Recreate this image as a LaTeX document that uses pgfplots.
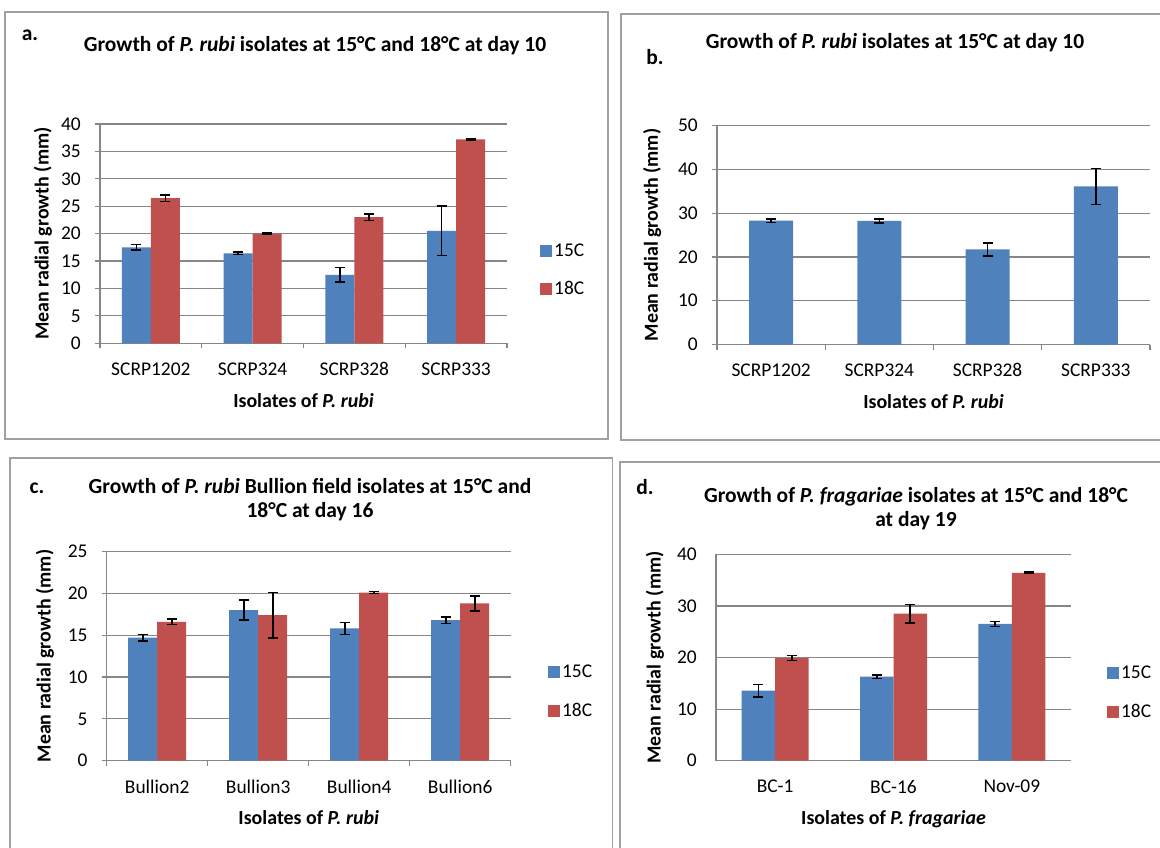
\documentclass[border=0pt]{standalone}
\usepackage{fontspec}
\setmainfont{Carlito}
\usepackage{pgfplots}
\pgfplotsset{compat=1.18}
\definecolor{xblue}{RGB}{79,129,189}
\definecolor{xred}{RGB}{192,80,77}
\definecolor{axgray}{RGB}{134,134,134}
\definecolor{boxgray}{RGB}{160,160,160}
\newcommand\tickfont{\fontsize{19.5}{23}\selectfont}
\newcommand\labfont{\fontsize{20}{24}\selectfont\bfseries}
\newcommand\titfont{\fontsize{21.6}{24}\selectfont\bfseries}

\pgfplotsset{
  excel/.style={
    scale only axis,
    axis lines*=left,
    axis line style={-, draw=axgray, line width=1.2bp},
    ymajorgrids,
    grid style={draw=axgray, line width=1.2bp},
    tick align=outside,
    major tick length=5bp,
    ytick style={draw=axgray, line width=1.2bp},
    xtick style={draw=none},
    ymin=0,
    /pgf/number format/assume math mode=true,
    tick label style={font=\tickfont},
    yticklabel style={anchor=east, inner sep=0pt, xshift=-14bp},
    xticklabel style={anchor=north, inner sep=0pt, yshift=-14bp},
    label style={font=\labfont},
    xlabel style={at={(axis description cs:0.5,0)}, anchor=base, yshift=-64bp},
    clip=false,
    ybar=0pt,
    error bars/y dir=both,
    error bars/y explicit,
    error bars/error bar style={line width=1.6bp, black},
    error bars/error mark options={rotate=90, mark size=5bp, line width=1.6bp, black},
    legend cell align=left,
    legend image code/.code={\fill[##1] (0bp,-6bp) rectangle (12bp,6bp);},
    legend style={draw=none, fill=none, font=\tickfont, inner sep=0pt, row sep=20bp, nodes={inner sep=2bp}, anchor=west},
  },
  boundticks/.style={
    extra x ticks={#1},
    extra x tick labels={},
    extra x tick style={xtick style={draw=axgray, line width=1.2bp}},
  },
}

\begin{document}
\begin{tikzpicture}
\useasboundingbox (0bp,0bp) rectangle (1160bp,-848bp);
\fill[white] (0bp,0bp) rectangle (1160bp,-848bp);

% panel borders
\draw[boxgray, line width=1.5bp] (5bp,-12bp) rectangle (608bp,-439bp);
\draw[boxgray, line width=1.5bp] (621bp,-14bp) rectangle (1163bp,-440bp);
\draw[boxgray, line width=1.5bp] (10bp,-458bp) rectangle (612.5bp,-851bp);
\draw[boxgray, line width=1.5bp] (620bp,-462bp) rectangle (1163bp,-851bp);

% ---------------- panel a ----------------
\begin{axis}[excel,
  at={(100bp,-343.3bp)}, anchor=south west,
  width=407bp, height=219.3bp,
  xmin=-0.5, xmax=3.5, ymax=40,
  ytick={0,5,10,15,20,25,30,35,40},
  xtick={0,1,2,3},
  xticklabels={SCRP1202,SCRP324,SCRP328,SCRP333},
  boundticks={-0.5,0.5,1.5,2.5,3.5},
  bar width=29bp,
  ylabel={Mean radial growth (mm)},
  ylabel style={at={(axis description cs:-0.140,0.5)}, anchor=center},
  xlabel={Isolates of \textit{P. rubi}},
  legend style={at={(axis description cs:1.081,0.334)}},
]
\addplot[fill=xblue, draw=none] coordinates {(0,17.5) +- (0,0.5) (1,16.4) +- (0,0.2) (2,12.5) +- (0,1.3) (3,20.5) +- (0,4.5)};
\addplot[fill=xred, draw=none] coordinates {(0,26.5) +- (0,0.6) (1,20.0) +- (0,0.15) (2,23.0) +- (0,0.6) (3,37.2) +- (0,0.15)};
\legend{15C,18C}
\end{axis}

% ---------------- panel b ----------------
\begin{axis}[excel,
  at={(717bp,-344.5bp)}, anchor=south west,
  width=433bp, height=219bp,
  xmin=-0.5, xmax=3.5, ymax=50,
  ytick={0,10,20,30,40,50},
  xtick={0,1,2,3},
  xticklabels={SCRP1202,SCRP324,SCRP328,SCRP333},
  boundticks={-0.5,0.5,1.5,2.5,3.5},
  bar width=44bp,
  ylabel={Mean radial growth (mm)},
  ylabel style={at={(axis description cs:-0.150,0.5)}, anchor=center},
  xlabel={Isolates of \textit{P. rubi}},
]
\addplot[fill=xblue, draw=none] coordinates {(0,28.3) +- (0,0.4) (1,28.2) +- (0,0.4) (2,21.7) +- (0,1.5) (3,36.1) +- (0,4.1)};
\end{axis}

% ---------------- panel c ----------------
\begin{axis}[excel,
  at={(106.7bp,-760.7bp)}, anchor=south west,
  width=404bp, height=209.2bp,
  xmin=-0.5, xmax=3.5, ymax=25,
  ytick={0,5,10,15,20,25},
  xtick={0,1,2,3},
  xticklabels={Bullion2,Bullion3,Bullion4,Bullion6},
  boundticks={-0.5,0.5,1.5,2.5,3.5},
  bar width=29bp,
  ylabel={Mean radial growth (mm)},
  ylabel style={at={(axis description cs:-0.153,0.5)}, anchor=center},
  xlabel={Isolates of \textit{P. rubi}},
  legend style={at={(axis description cs:1.092,0.331)}},
]
\addplot[fill=xblue, draw=none] coordinates {(0,14.7) +- (0,0.4) (1,18.0) +- (0,1.2) (2,15.8) +- (0,0.7) (3,16.8) +- (0,0.4)};
\addplot[fill=xred, draw=none] coordinates {(0,16.6) +- (0,0.3) (1,17.4) +- (0,2.7) (2,20.1) +- (0,0.1) (3,18.8) +- (0,0.9)};
\legend{15C,18C}
\end{axis}

% ---------------- panel d ----------------
\begin{axis}[excel,
  at={(716bp,-760.7bp)}, anchor=south west,
  width=355bp, height=206.4bp,
  xmin=-0.5, xmax=2.5, ymax=40,
  ytick={0,10,20,30,40},
  ytick style={draw=none},
  xtick={0,1,2},
  xticklabels={BC-1,BC-16,Nov-09},
  bar width=33.5bp,
  ylabel={Mean radial growth (mm)},
  ylabel style={at={(axis description cs:-0.172,0.5)}, anchor=center},
  xlabel={Isolates of \textit{P. fragariae}},
  legend style={at={(axis description cs:1.101,0.330)}},
]
\addplot[fill=xblue, draw=none] coordinates {(0,13.6) +- (0,1.2) (1,16.3) +- (0,0.35) (2,26.5) +- (0,0.5)};
\addplot[fill=xred, draw=none] coordinates {(0,19.9) +- (0,0.5) (1,28.5) +- (0,1.8) (2,36.4) +- (0,0.15)};
\legend{15C,18C}
\end{axis}

% titles
\node[font=\titfont] at (30bp,-35bp) {a.};
\node[font=\titfont] at (315bp,-46bp) {Growth of \textit{P. rubi} isolates at 15°C and 18°C at day 10};
\node[font=\titfont] at (655bp,-57bp) {b.};
\node[font=\titfont] at (895bp,-43bp) {Growth of \textit{P. rubi} isolates at 15°C at day 10};
\node[font=\titfont] at (37bp,-488bp) {c.};
\node[font=\titfont, align=center] at (310bp,-500bp) {Growth of \textit{P. rubi} Bullion field isolates at 15°C and\\18°C at day 16};
\node[font=\titfont] at (645bp,-487bp) {d.};
\node[font=\titfont, align=center] at (916bp,-509bp) {Growth of \textit{P. fragariae} isolates at 15°C and 18°C\\at day 19};
\end{tikzpicture}
\end{document}
